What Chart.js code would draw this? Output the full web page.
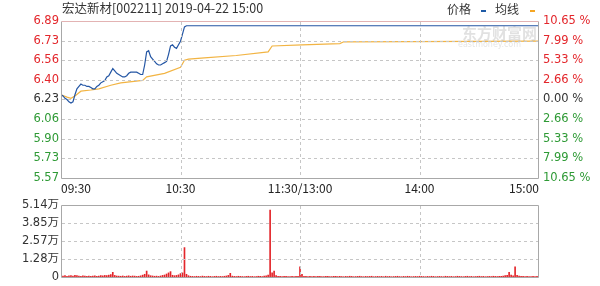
<!DOCTYPE html>
<html>
<head>
<meta charset="utf-8">
<script src="https://cdn.jsdelivr.net/npm/chart.js@4.4.1/dist/chart.umd.min.js"></script>
<style>
  html, body { margin: 0; padding: 0; background: #fff; }
  #wrap { position: relative; width: 600px; height: 286px; overflow: hidden; }
  #price-chart { position: absolute; left: 0; top: 0; }
  #volume-chart { position: absolute; left: 0; top: 196px; }
  .title { position: absolute; left: 62px; top: 0; font-family: "Noto Sans CJK SC", sans-serif; font-size: 12.5px; line-height: 16px; color: #333; white-space: pre; }
  .legend { position: absolute; top: 1px; font-family: "Noto Sans CJK SC", sans-serif; font-size: 12px; line-height: 16px; color: #333; }
  .swatch { position: absolute; width: 5px; height: 2px; }
  .mark { position: absolute; left: 462px; top: 22px; font-family: "Noto Sans CJK SC", sans-serif; font-size: 15px; font-weight: bold; color: rgba(120,120,120,0.22); pointer-events: none; }
  .mark-en { position: absolute; left: 458px; top: 40px; font-family: "DejaVu Sans", sans-serif; font-size: 8px; color: rgba(120,120,120,0.2); pointer-events: none; }
  .grid-h { position: absolute; height: 1px; pointer-events: none;
    background: repeating-linear-gradient(to right, #c6c6c6 0 3px, transparent 3px 6px); }
  .grid-v { position: absolute; width: 1px; pointer-events: none;
    background: repeating-linear-gradient(to bottom, #c6c6c6 0 3px, transparent 3px 6px); }
</style>
</head>
<body>
<div id="wrap">
  <canvas id="price-chart" width="600" height="196"></canvas>
  <canvas id="volume-chart" width="600" height="90"></canvas>
  <div class="title">宏达新材[002211] 2019-04-22 15:00</div>
  <div class="legend" style="left:447px">价格</div>
  <div class="swatch" style="left:481px; top:10px; background:#1e5aa6"></div>
  <div class="legend" style="left:495px">均线</div>
  <div class="swatch" style="left:530px; top:10px; background:#f5a623"></div>
  <div class="mark">东方财富网</div>
  <div class="mark-en">eastmoney.com</div>
</div>
<script>
"use strict";

const timeLabels = ["09:30", "10:30", "11:30/13:00", "14:00", "15:00"];
const timeTickMinutes = [0, 60, 120, 180, 240];

const priceTicks = ["6.89", "6.73", "6.56", "6.40", "6.23", "6.06", "5.90", "5.73", "5.57"];
const percentTicks = ["10.65 %", "7.99 %", "5.33 %", "2.66 %", "0.00 %", "2.66 %", "5.33 %", "7.99 %", "10.65 %"];
const volumeTicks = ["5.14万", "3.85万", "2.57万", "1.28万", "0"];

const priceMax = 6.89;
const priceMin = 5.57;
const volumeMax = 5.14;

// price per minute from 09:30 until limit-up (index = minutes after open)
const priceOpen = [
  6.27, 6.26, 6.24, 6.23, 6.21, 6.20, 6.21, 6.27, 6.32, 6.34,
  6.36, 6.35, 6.35, 6.34, 6.34, 6.33, 6.32, 6.32, 6.34, 6.35,
  6.37, 6.38, 6.39, 6.42, 6.43, 6.46, 6.49, 6.47, 6.45, 6.44,
  6.43, 6.42, 6.42, 6.43, 6.45, 6.46, 6.46, 6.46, 6.46, 6.45,
  6.44, 6.44, 6.52, 6.63, 6.64, 6.59, 6.57, 6.55, 6.53, 6.52,
  6.52, 6.53, 6.54, 6.55, 6.61, 6.68, 6.69, 6.67, 6.66, 6.69,
  6.72, 6.78, 6.84, 6.85
];
// sealed at limit-up for the rest of the day
const limitUpMinutes = [63, 240];
const limitUpPrice = 6.85;

const avgMinutes = [0, 3, 5, 7, 10, 15, 19, 25, 30, 41, 43, 52, 60, 62, 64, 72, 88, 104, 106, 121, 140, 142, 240];
const avgValues = [6.27, 6.25, 6.24, 6.26, 6.30, 6.31, 6.32, 6.35, 6.37, 6.39, 6.42, 6.45, 6.50, 6.56, 6.57, 6.58, 6.60, 6.63, 6.68, 6.69, 6.70, 6.715, 6.72];

// volume per minute, in 万
const volume = [
  0.12, 0.08, 0.10, 0.06, 0.09, 0.11, 0.07, 0.13, 0.10, 0.08, 0.06, 0.09, 0.07, 0.05, 0.08, 0.06, 0.07, 0.09, 0.06, 0.08,
  0.10, 0.09, 0.12, 0.11, 0.14, 0.18, 0.34, 0.12, 0.08, 0.07, 0.06, 0.08, 0.05, 0.07, 0.09, 0.06, 0.08, 0.07, 0.05, 0.06,
  0.09, 0.14, 0.20, 0.43, 0.16, 0.10, 0.08, 0.06, 0.07, 0.05, 0.08, 0.12, 0.15, 0.22, 0.30, 0.39, 0.13, 0.10, 0.12, 0.16,
  0.25, 0.30, 2.10, 0.20, 0.10, 0.06, 0.05, 0.04, 0.06, 0.05, 0.04, 0.07, 0.05, 0.04, 0.06, 0.05, 0.03, 0.05, 0.06, 0.04,
  0.05, 0.04, 0.06, 0.08, 0.12, 0.27, 0.07, 0.05, 0.04, 0.06, 0.05, 0.04, 0.03, 0.05, 0.06, 0.04, 0.05, 0.03, 0.04, 0.06,
  0.05, 0.04, 0.07, 0.09, 0.15, 4.78, 0.30, 0.43, 0.10, 0.06, 0.05, 0.04, 0.06, 0.05, 0.04, 0.03, 0.05, 0.04, 0.06, 0.05,
  0.73, 0.20, 0.06, 0.05, 0.04, 0.06, 0.03, 0.05, 0.04, 0.06, 0.05, 0.03, 0.04, 0.06, 0.05, 0.04, 0.03, 0.05, 0.06, 0.04,
  0.05, 0.04, 0.03, 0.05, 0.04, 0.06, 0.05, 0.03, 0.04, 0.05, 0.06, 0.04, 0.03, 0.05, 0.04, 0.05, 0.06, 0.03, 0.04, 0.05,
  0.04, 0.05, 0.03, 0.06, 0.04, 0.05, 0.03, 0.04, 0.05, 0.06, 0.04, 0.03, 0.05, 0.04, 0.06, 0.05, 0.03, 0.04, 0.05, 0.04,
  0.06, 0.05, 0.04, 0.03, 0.05, 0.04, 0.06, 0.05, 0.03, 0.04, 0.05, 0.04, 0.03, 0.06, 0.05, 0.04, 0.05, 0.03, 0.04, 0.06,
  0.05, 0.04, 0.03, 0.05, 0.06, 0.04, 0.05, 0.03, 0.04, 0.05, 0.06, 0.04, 0.05, 0.03, 0.04, 0.05, 0.04, 0.06, 0.05, 0.04,
  0.05, 0.06, 0.08, 0.10, 0.12, 0.34, 0.15, 0.09, 0.73, 0.12, 0.07, 0.05, 0.06, 0.04, 0.05, 0.03, 0.04, 0.05, 0.04, 0.06,
  0.10
];

const upColor = "#e3262b";
const downColor = "#2e9a35";
const axisFont = { family: "'DejaVu Sans', 'Noto Sans CJK SC', sans-serif", size: 11.5 };

const pricePoints = priceOpen
  .map((value, minute) => ({ x: minute, y: value }))
  .concat(limitUpMinutes.map((minute) => ({ x: minute, y: limitUpPrice })));
const avgPoints = avgMinutes.map((minute, i) => ({ x: minute, y: avgValues[i] }));
const volumePoints = volume.map((value, minute) => ({ x: minute, y: value }));

function tickColor(index, count) {
  const mid = (count - 1) / 2;
  if (index === mid) return "#333";
  return index < mid ? upColor : downColor;
}

function evenValues(min, max, count) {
  const values = [];
  for (let i = 0; i < count; i++) values.push(min + (max - min) * i / (count - 1));
  return values;
}

// solid frame round the plot area
const frame = {
  id: "frame",
  afterDraw(chart) {
    const { ctx, chartArea: a } = chart;
    const l = Math.round(a.left) + 0.5;
    const r = Math.round(a.right) - 0.5;
    const t = Math.round(a.top) + 0.5;
    const b = Math.round(a.bottom) + 0.5;
    ctx.save();
    ctx.lineWidth = 1;
    ctx.strokeStyle = "#a8a8a8";
    ctx.beginPath();
    ctx.moveTo(l, t);
    ctx.lineTo(l, b);
    ctx.lineTo(r, b);
    ctx.lineTo(r, t);
    ctx.stroke();
    ctx.strokeStyle = chart.options.frameTop || "#a8a8a8";
    ctx.beginPath();
    ctx.moveTo(l, t);
    ctx.lineTo(r, t);
    ctx.stroke();
    ctx.restore();
  }
};

// dashed grid laid over the canvas, placed from the chart's own scales
function addGrid(chart, yValues) {
  const wrap = document.getElementById("wrap");
  const top = chart.canvas.offsetTop;
  const a = chart.chartArea;
  const left = Math.round(a.left);
  const right = Math.round(a.right);
  const areaTop = Math.round(a.top);
  const areaBottom = Math.round(a.bottom);

  yValues.forEach((value) => {
    const y = Math.round(chart.scales.y.getPixelForValue(value));
    const line = document.createElement("div");
    line.className = "grid-h";
    line.style.left = (left + 1) + "px";
    line.style.width = (right - left - 2) + "px";
    line.style.top = (top + y) + "px";
    wrap.appendChild(line);
  });

  timeTickMinutes.slice(1, -1).forEach((minute) => {
    const x = Math.round(chart.scales.x.getPixelForValue(minute));
    const line = document.createElement("div");
    line.className = "grid-v";
    line.style.left = x + "px";
    line.style.top = (top + areaTop + 1) + "px";
    line.style.height = (areaBottom - areaTop - 1) + "px";
    wrap.appendChild(line);
  });
}

function timeAxis(showLabels, height) {
  return {
    type: "linear",
    min: 0,
    max: 240,
    offset: false,
    afterBuildTicks: (scale) => { scale.ticks = timeTickMinutes.map((v) => ({ value: v })); },
    afterFit: (scale) => { scale.height = height; },
    ticks: {
      display: showLabels,
      callback: (value, index) => timeLabels[index],
      align: "inner",
      autoSkip: false,
      maxRotation: 0,
      padding: 3,
      color: "#222",
      font: { family: "'Noto Sans CJK SC', sans-serif", size: 12 }
    },
    grid: { display: false, drawTicks: false },
    border: { display: false }
  };
}

const priceChart = new Chart(document.getElementById("price-chart"), {
  type: "line",
  data: {
    datasets: [
      {
        label: "价格",
        data: pricePoints,
        borderColor: "#2456a4",
        borderWidth: 1.2,
        pointRadius: 0,
        tension: 0
      },
      {
        label: "均线",
        data: avgPoints,
        borderColor: "#f2b443",
        borderWidth: 1.2,
        pointRadius: 0,
        tension: 0
      }
    ]
  },
  options: {
    responsive: false,
    animation: false,
    frameTop: "#e3b3b3",
    layout: { padding: { top: 21, left: 0, right: 0, bottom: 0 } },
    plugins: { legend: { display: false }, tooltip: { enabled: false } },
    scales: {
      x: timeAxis(true, 18),
      y: {
        position: "left",
        min: priceMin,
        max: priceMax,
        afterBuildTicks: (scale) => {
          scale.ticks = evenValues(priceMin, priceMax, priceTicks.length).map((v) => ({ value: v }));
        },
        afterFit: (scale) => { scale.width = 61; },
        ticks: {
          callback: (value, index) => priceTicks[priceTicks.length - 1 - index],
          color: (ctx) => tickColor(priceTicks.length - 1 - ctx.index, priceTicks.length),
          padding: 2,
          font: axisFont
        },
        grid: { display: false, drawTicks: false },
        border: { display: false }
      },
      yR: {
        position: "right",
        min: priceMin,
        max: priceMax,
        afterBuildTicks: (scale) => {
          scale.ticks = evenValues(priceMin, priceMax, percentTicks.length).map((v) => ({ value: v }));
        },
        afterFit: (scale) => { scale.width = 61; },
        ticks: {
          callback: (value, index) => percentTicks[percentTicks.length - 1 - index],
          color: (ctx) => tickColor(percentTicks.length - 1 - ctx.index, percentTicks.length),
          padding: 4,
          font: axisFont
        },
        grid: { display: false, drawTicks: false },
        border: { display: false }
      }
    }
  },
  plugins: [frame]
});

const volumeChart = new Chart(document.getElementById("volume-chart"), {
  type: "bar",
  data: {
    datasets: [{
      label: "成交量",
      data: volumePoints,
      backgroundColor: upColor,
      barThickness: 1,
      grouped: false
    }]
  },
  options: {
    responsive: false,
    animation: false,
    layout: { padding: { top: 8, left: 0, right: 61, bottom: 0 } },
    plugins: { legend: { display: false }, tooltip: { enabled: false } },
    scales: {
      x: timeAxis(false, 7),
      y: {
        position: "left",
        min: 0,
        max: volumeMax,
        afterBuildTicks: (scale) => {
          scale.ticks = evenValues(0, volumeMax, volumeTicks.length).map((v) => ({ value: v }));
        },
        afterFit: (scale) => { scale.width = 61; },
        ticks: {
          callback: (value, index) => volumeTicks[volumeTicks.length - 1 - index],
          color: "#333",
          padding: 2,
          font: axisFont
        },
        grid: { display: false, drawTicks: false },
        border: { display: false }
      }
    }
  },
  plugins: [frame]
});

addGrid(priceChart, evenValues(priceMin, priceMax, priceTicks.length).slice(1, -1));
addGrid(volumeChart, evenValues(0, volumeMax, volumeTicks.length).slice(1, -1));
</script>
</body>
</html>
